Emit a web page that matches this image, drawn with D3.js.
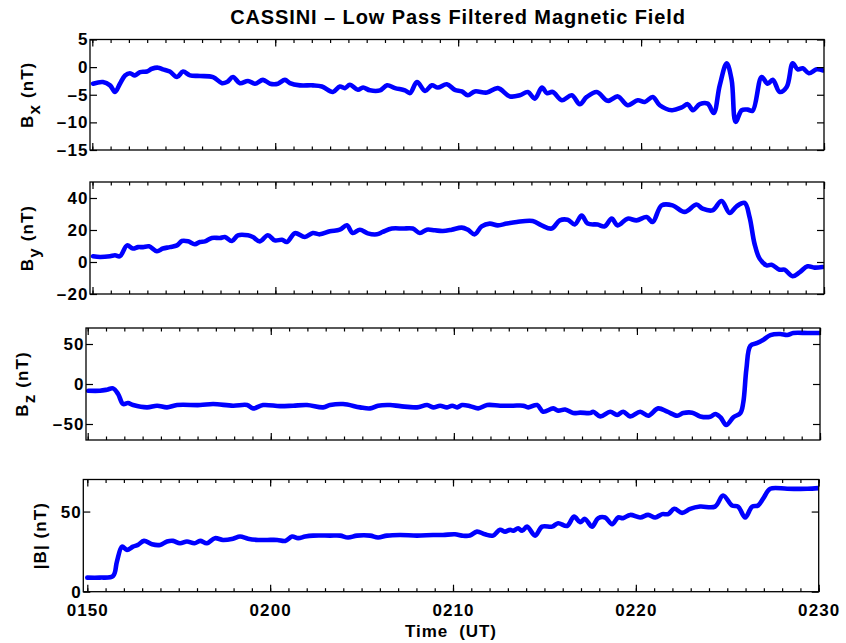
<!DOCTYPE html>
<html>
<head>
<meta charset="utf-8">
<script src="https://cdn.jsdelivr.net/npm/d3@7"></script>
<style>
  body { margin: 0; background: #fff; }
  svg text { font-family: "Liberation Sans", Arial, Helvetica, sans-serif; font-weight: bold; fill: #000; }
</style>
</head>
<body>
<svg id="chart" width="846" height="643"></svg>
<script>
// time is minutes after 01:50 UT, field in nT
const bx = [
  [0.04,-3.0],[0.58,-2.7],[0.97,-3.3],[1.24,-4.5],[1.51,-3.0],[1.79,-1.5],[2.06,-1.1],[2.33,-1.5],
  [2.61,-0.9],[2.99,-0.8],[3.26,-0.3],[3.59,-0.1],[3.86,-0.4],[4.24,-0.8],[4.63,-1.8],[4.96,-0.8],
  [5.34,-1.5],[5.89,-1.6],[6.6,-1.8],[7.09,-2.9],[7.36,-2.7],[7.69,-1.8],[8.07,-2.9],[8.51,-2.5],
  [8.89,-3.0],[9.33,-2.3],[9.72,-3.0],[10.15,-3.0],[10.53,-2.3],[10.8,-2.9],[11.35,-3.3],[12.06,-3.3],
  [12.55,-3.5],[13.15,-4.5],[13.53,-3.5],[13.81,-3.8],[14.08,-3.2],[14.52,-4.1],[14.8,-3.7],[15.18,-4.2],
  [15.73,-4.2],[16.11,-3.3],[16.55,-3.8],[17.09,-4.2],[17.37,-4.7],[17.75,-2.7],[18.19,-4.3],[18.56,-3.3],
  [18.89,-3.7],[19.38,-3.1],[19.82,-4.1],[20.2,-4.4],[20.53,-5.1],[20.91,-4.4],[21.57,-4.6],[22.17,-3.8],
  [22.83,-5.3],[23.37,-5.1],[23.81,-4.5],[24.19,-5.7],[24.58,-3.7],[24.85,-4.7],[25.17,-4.5],[25.67,-6.0],
  [26.21,-5.1],[26.65,-6.7],[27.03,-5.4],[27.58,-4.5],[28.18,-6.1],[28.73,-5.3],[29.27,-6.9],[29.82,-6.0],
  [30.2,-6.3],[30.64,-5.4],[31.02,-6.9],[31.68,-7.8],[32.22,-7.3],[32.55,-6.7],[32.83,-7.8],[33.21,-6.7],
  [33.64,-6.6],[33.97,-8.3],[34.3,-3.3],[34.68,0.7],[34.95,-2.3],[35.17,-9.9],[35.5,-7.8],[35.83,-7.7],
  [36.1,-7.9],[36.59,-1.8],[36.92,-3.0],[37.2,-2.3],[37.58,-4.5],[37.96,-3.6],[38.29,0.7],[38.56,-0.4],
  [38.84,-0.2],[39.17,-1.1],[39.6,-0.4],[39.93,-0.6]
];

const by = [
  [0.03,3.6],[0.41,3.1],[0.96,3.6],[1.23,4.2],[1.5,3.6],[1.89,10.4],[2.21,8.4],[2.49,9.3],
  [2.76,9.3],[3.09,9.8],[3.52,6.7],[3.85,8.4],[4.23,9.3],[4.62,10.4],[4.89,13.1],[5.22,12.9],
  [5.6,11.1],[5.87,12.5],[6.15,12.9],[6.53,15.0],[6.97,15.0],[7.24,15.6],[7.62,13.1],[7.95,16.7],
  [8.5,16.7],[8.77,15.6],[9.15,12.9],[9.59,16.7],[9.97,13.5],[10.36,13.9],[10.63,12.5],[11.07,18.0],
  [11.61,15.6],[12.05,18.1],[12.43,17.3],[12.98,19.2],[13.52,20.2],[13.91,22.9],[14.23,18.1],[14.62,20.2],
  [15.05,17.9],[15.55,17.3],[15.87,18.8],[16.37,20.9],[16.97,20.9],[17.51,20.9],[17.9,18.1],[18.28,20.2],
  [18.72,19.8],[19.15,19.4],[19.64,20.2],[20.19,21.5],[20.52,20.2],[20.9,17.3],[21.28,22.3],[21.72,24.0],
  [22.16,22.9],[22.65,24.0],[23.2,25.0],[24.07,25.6],[24.56,22.9],[25.11,20.9],[25.55,26.0],[25.98,26.4],
  [26.37,23.5],[26.75,29.0],[27.08,24.0],[27.62,23.4],[28.01,22.3],[28.39,27.1],[28.72,22.9],[29.26,27.1],
  [29.75,26.0],[30.3,28.1],[30.63,25.0],[31.12,35.4],[31.72,35.4],[32.38,31.3],[33.03,35.9],[33.36,33.3],
  [33.9,32.3],[34.4,38.1],[34.84,30.6],[35.22,34.8],[35.66,36.9],[35.93,28.1],[36.2,11.5],[36.48,2.1],
  [36.86,-2.1],[37.13,-1.7],[37.57,-4.8],[37.84,-4.8],[38.28,-8.9],[38.66,-6.5],[39.1,-2.7],[39.48,-3.5],
  [39.92,-3.1]
];

const bz = [
  [0.03,-8.4],[0.67,-8.4],[1.05,-7.1],[1.38,-5.5],[1.66,-12.5],[1.93,-25.0],[2.2,-23.8],[2.48,-26.3],
  [3.24,-29.2],[3.79,-27.1],[4.33,-29.2],[4.88,-26.3],[6.14,-26.3],[6.85,-25.0],[7.94,-27.1],[8.71,-26.3],
  [9.03,-30.5],[9.58,-26.3],[10.51,-27.7],[11.22,-27.1],[11.98,-26.3],[12.86,-29.2],[13.24,-26.3],[13.95,-25.0],
  [14.88,-29.2],[15.43,-30.5],[15.86,-27.1],[16.52,-26.3],[17.07,-27.7],[17.99,-29.2],[18.54,-26.3],[18.87,-29.2],
  [19.25,-27.1],[19.63,-29.2],[19.91,-27.1],[20.18,-29.2],[20.45,-26.3],[20.89,-27.7],[21.33,-30.5],[21.82,-26.3],
  [22.53,-27.1],[23.24,-27.1],[23.79,-27.1],[24.06,-29.2],[24.55,-26.3],[24.88,-34.6],[25.43,-30.5],[25.7,-33.3],
  [26.08,-31.9],[26.52,-36.3],[26.9,-35.8],[27.45,-36.3],[27.61,-34.6],[28.0,-40.5],[28.54,-34.6],[28.92,-38.8],
  [29.25,-34.6],[29.63,-40.5],[30.18,-34.6],[30.62,-39.6],[31.16,-30.5],[31.66,-34.6],[32.2,-39.6],[32.53,-36.3],
  [33.02,-35.8],[33.46,-40.5],[34.01,-40.9],[34.28,-37.5],[34.56,-41.6],[34.88,-51.3],[35.27,-41.6],[35.65,-36.3],
  [35.81,-23.0],[35.98,18.7],[36.2,47.9],[36.58,51.3],[36.91,55.4],[37.29,61.2],[37.83,62.5],[38.21,61.2],
  [38.54,63.7],[39.31,63.7],[39.96,63.7]
];

const bmag = [
  [0.0,8.8],[0.69,8.8],[1.41,9.8],[1.62,18.8],[1.9,28.1],[2.17,26.1],[2.5,28.1],[2.77,29.2],
  [3.1,31.7],[3.54,29.6],[3.98,29.2],[4.36,31.3],[4.69,31.7],[5.07,30.2],[5.45,31.3],[5.86,30.2],
  [6.17,31.7],[6.54,30.2],[6.98,33.4],[7.42,32.3],[7.97,33.1],[8.35,34.4],[8.79,33.1],[9.34,32.3],
  [9.84,32.3],[10.39,32.3],[10.82,31.7],[11.2,34.4],[11.53,33.4],[11.91,34.4],[12.35,35.0],[13.28,35.0],
  [13.83,35.0],[14.26,33.8],[14.75,35.0],[15.47,35.0],[15.9,33.8],[16.39,35.0],[17.1,35.4],[18.03,35.0],
  [18.91,35.4],[19.45,35.4],[20.11,35.8],[20.49,35.0],[20.92,35.0],[21.31,37.5],[21.75,35.8],[22.19,35.0],
  [22.57,38.6],[22.85,37.5],[23.12,38.6],[23.29,38.0],[23.56,39.6],[23.78,38.0],[24.05,40.6],[24.49,35.0],
  [24.87,40.6],[25.42,40.6],[25.75,42.7],[26.24,41.0],[26.62,46.9],[26.95,43.4],[27.22,45.4],[27.6,40.6],
  [27.94,45.9],[28.32,46.3],[28.7,42.1],[29.03,46.3],[29.3,45.9],[29.69,47.9],[30.24,46.3],[30.67,47.9],
  [31.06,46.3],[31.44,48.4],[31.77,48.4],[32.1,51.7],[32.53,49.2],[32.97,51.7],[33.51,53.1],[34.33,53.1],
  [34.77,60.0],[35.26,53.8],[35.59,53.1],[35.98,46.3],[36.36,53.1],[36.69,53.8],[36.98,58.4],[37.35,64.2],
  [38.28,64.2],[39.37,64.2],[39.97,64.6]
];

const timeTicks = [0, 10, 20, 30, 40];
const timeLabels = ['0150', '0200', '0210', '0220', '0230'];
const bxTicks = [-15, -10, -5, 0, 5];
const byTicks = [-20, 0, 20, 40];
const bzTicks = [-50, 0, 50];
const bmagTicks = [0, 50];

const titleText = 'CASSINI \u2013 Low Pass Filtered Magnetic Field';
const xTitle = 'Time  (UT)';

const panels = [
  { data: bx,   domain: [-15, 5],  ticks: bxTicks,   main: 'B', sub: 'x', left: 90,   x0: 92.3, right: 824,   top: 39.5,  bottom: 150,   labelX: 33 },
  { data: by,   domain: [-20, 50], ticks: byTicks,   main: 'B', sub: 'y', left: 90,   x0: 92.5, right: 824,   top: 182,   bottom: 294,   labelX: 33 },
  { data: bz,   domain: [-70, 70], ticks: bzTicks,   main: 'B', sub: 'z', left: 86,   x0: 87.7, right: 820,   top: 328,   bottom: 440,   labelX: 28 },
  { data: bmag, domain: [0, 70],   ticks: bmagTicks, main: '|B|', sub: null, left: 83.3, x0: 87.3, right: 818.7, top: 479.5, bottom: 591.7, labelX: 46 }
];

const svg = d3.select('#chart');
const fontSize = 17;
const spacing = 1.1;
const fmt = d => d < 0 ? '\u2013' + Math.abs(d) : String(d);

function styleAxis(sel) {
  sel.select('.domain').remove();
  sel.selectAll('line').attr('stroke', '#000').attr('stroke-width', 1.2);
  sel.selectAll('text')
    .attr('font-size', fontSize)
    .style('letter-spacing', spacing + 'px')
    .attr('fill', '#000');
}

panels.forEach(function(p, i) {
  const x = d3.scaleLinear().domain([0, 40]).range([p.x0, p.right]);
  const y = d3.scaleLinear().domain(p.domain).range([p.bottom, p.top]);
  const g = svg.append('g');

  g.append('clipPath').attr('id', 'clip' + i)
    .append('rect')
      .attr('x', p.left).attr('y', p.top)
      .attr('width', p.right - p.left).attr('height', p.bottom - p.top);

  const line = d3.line()
    .x(d => x(d[0]))
    .y(d => y(d[1]))
    .curve(d3.curveCatmullRom.alpha(0.5));

  g.append('path')
    .datum(p.data)
    .attr('clip-path', 'url(#clip' + i + ')')
    .attr('fill', 'none')
    .attr('stroke', '#0000ff')
    .attr('stroke-width', 4.6)
    .attr('stroke-linejoin', 'round')
    .attr('stroke-linecap', 'round')
    .attr('d', line);

  const minor = d3.range(0, 41, 1);
  const isLast = i === panels.length - 1;

  // minor + major ticks, bottom and top, pointing inward
  g.append('g').attr('transform', `translate(0,${p.bottom})`)
    .call(d3.axisBottom(x).tickValues(minor).tickSize(-3.5).tickFormat(''))
    .call(styleAxis);
  g.append('g').attr('transform', `translate(0,${p.top})`)
    .call(d3.axisTop(x).tickValues(minor).tickSize(-3.5).tickFormat(''))
    .call(styleAxis);
  g.append('g').attr('transform', `translate(0,${p.bottom})`)
    .call(d3.axisBottom(x).tickValues(timeTicks).tickSize(-7).tickPadding(12.5)
      .tickFormat((d, k) => isLast ? timeLabels[k] : ''))
    .call(styleAxis);
  g.append('g').attr('transform', `translate(0,${p.top})`)
    .call(d3.axisTop(x).tickValues(timeTicks).tickSize(-7).tickFormat(''))
    .call(styleAxis);

  // y ticks on both sides
  g.append('g').attr('transform', `translate(${p.left},0)`)
    .call(d3.axisLeft(y).tickValues(p.ticks).tickSize(-7).tickPadding(1.5).tickFormat(fmt))
    .call(styleAxis);
  g.append('g').attr('transform', `translate(${p.right},0)`)
    .call(d3.axisRight(y).tickValues(p.ticks).tickSize(-7).tickFormat(''))
    .call(styleAxis);

  // box
  g.append('rect')
    .attr('x', p.left).attr('y', p.top)
    .attr('width', p.right - p.left).attr('height', p.bottom - p.top)
    .attr('fill', 'none').attr('stroke', '#000').attr('stroke-width', 1.3);

  // y label, rotated
  const cy = (p.top + p.bottom) / 2;
  const lab = g.append('text')
    .attr('transform', `translate(${p.labelX},${cy}) rotate(-90)`)
    .attr('text-anchor', 'middle')
    .attr('font-size', fontSize)
    .style('letter-spacing', spacing + 'px');
  lab.append('tspan').text(p.main);
  if (p.sub) {
    lab.append('tspan').attr('dy', 7).text(p.sub);
    lab.append('tspan').attr('dy', -7).text(' (nT)');
  } else {
    lab.append('tspan').text(' (nT)');
  }
});

svg.append('text')
  .attr('x', 458).attr('y', 24)
  .attr('text-anchor', 'middle')
  .attr('font-size', 20)
  .style('letter-spacing', '0.9px')
  .text(titleText);

svg.append('text')
  .attr('x', 451).attr('y', 637)
  .attr('text-anchor', 'middle')
  .attr('font-size', fontSize)
  .style('letter-spacing', '0.9px')
  .style('white-space', 'pre')
  .text(xTitle);
</script>
</body>
</html>
